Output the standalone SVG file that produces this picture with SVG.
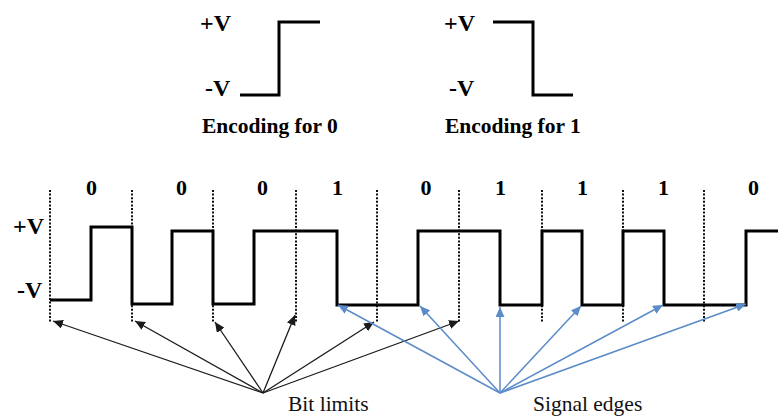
<svg xmlns="http://www.w3.org/2000/svg" width="778" height="419" viewBox="0 0 778 419">
<style>
.sig{fill:none;stroke:#000;stroke-width:3;stroke-linejoin:miter;stroke-linecap:butt}
.lim{fill:none;stroke:#111;stroke-width:2;stroke-dasharray:2,1.6}
.lbl{font-family:"Liberation Serif","Times New Roman",serif;font-weight:bold;fill:#000}
.cap{font-family:"Liberation Serif","Times New Roman",serif;fill:#111;font-size:21.5px}
.ka{fill:none;stroke:#1a1a1a;stroke-width:1.3;marker-end:url(#ak)}
.ba{fill:none;stroke:#5b8bc8;stroke-width:1.5;marker-end:url(#ab)}
</style>
<defs>
<marker id="ak" markerUnits="userSpaceOnUse" markerWidth="11" markerHeight="9" refX="10" refY="4.5" orient="auto"><path d="M0,0 L10,4.5 L0,9 z" fill="#1a1a1a"/></marker>
<marker id="ab" markerUnits="userSpaceOnUse" markerWidth="11" markerHeight="9" refX="10" refY="4.5" orient="auto"><path d="M0,0 L10,4.5 L0,9 z" fill="#5b8bc8"/></marker>
</defs>
<g id="enc0">
<text class="lbl" x="200" y="31" font-size="24">+V</text>
<text class="lbl" x="205" y="96" font-size="24">-V</text>
<path class="sig" d="M240,95 H279 V22 H320"/>
<text class="lbl" x="202" y="133" font-size="21.5">Encoding for 0</text>
</g>
<g id="enc1">
<text class="lbl" x="444" y="31" font-size="24">+V</text>
<text class="lbl" x="449" y="96" font-size="24">-V</text>
<path class="sig" d="M493,22 H533 V95 H573"/>
<text class="lbl" x="445" y="133" font-size="21.5">Encoding for 1</text>
</g>
<g id="levels">
<text class="lbl" x="13" y="234" font-size="24">+V</text>
<text class="lbl" x="17" y="298" font-size="24">-V</text>
</g>
<g id="bitlimits">
<path class="lim" d="M50,190 V322 M132,190 V322 M213,190 V322 M296,190 V322 M377,190 V322 M459,190 V322 M542,190 V322 M623,190 V322 M704,190 V322"/>
</g>
<g id="bits" class="lbl" font-size="22" text-anchor="middle">
<text x="91.5" y="195">0</text>
<text x="181.5" y="195">0</text>
<text x="262.5" y="195">0</text>
<text x="337.5" y="195">1</text>
<text x="426" y="195">0</text>
<text x="500.5" y="195">1</text>
<text x="582.5" y="195">1</text>
<text x="663.5" y="195">1</text>
<text x="753.5" y="195">0</text>
</g>
<g id="signal">
<path class="sig" d="M50,300 H91 V227 H132 V304 H172 V231 H213 V304 H254 V231 H337 V305 H418 V231 H500 V305 H542 V231 H582 V305 H623 V231 H664 V305 H746 V231 H778"/>
</g>
<g id="connectors">
<path class="ka" d="M263,393 L53,321"/>
<path class="ka" d="M263,393 L135,321"/>
<path class="ka" d="M263,393 L215,322"/>
<path class="ka" d="M263,393 L295,315"/>
<path class="ka" d="M263,393 L374,322"/>
<path class="ka" d="M263,393 L459,321"/>
<path class="ba" d="M500,393 L338,305"/>
<path class="ba" d="M500,393 L420,306"/>
<path class="ba" d="M500,393 L500,307"/>
<path class="ba" d="M500,393 L581,306"/>
<path class="ba" d="M500,393 L663,305"/>
<path class="ba" d="M500,393 L746,304"/>
</g>
<g id="bit-limits-label"><text class="cap" x="288" y="411">Bit limits</text></g>
<g id="signal-edges-label"><text class="cap" x="533" y="411">Signal edges</text></g>
</svg>
